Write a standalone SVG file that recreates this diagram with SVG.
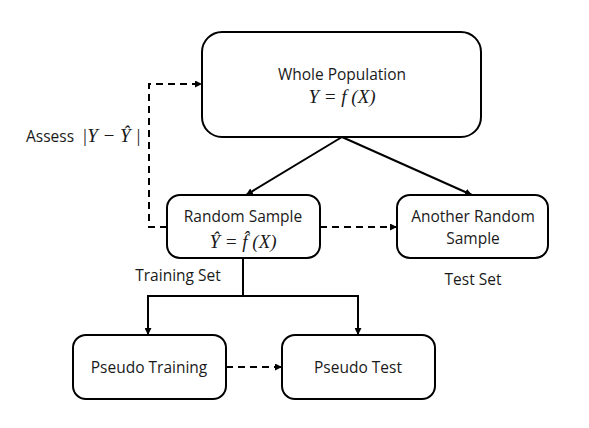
<svg xmlns="http://www.w3.org/2000/svg" width="589" height="428" viewBox="0 0 589 428">
<style>
.box{fill:#fff;stroke:#000;stroke-width:2}
.t{font-family:"Open Sans","Liberation Sans",sans-serif;font-size:15.5px;fill:#1a1a1a;text-anchor:middle}
.m{font-family:"Liberation Serif",serif;font-style:italic;font-size:19px;fill:#1a1a1a;text-anchor:middle}
.ln{stroke:#000;stroke-width:2;fill:none}
.d{stroke:#000;stroke-width:2;fill:none;stroke-dasharray:7,5}
</style>
<defs>
<marker id="ah" viewBox="0 0 10 10" refX="10" refY="5" markerWidth="3.5" markerHeight="3.5" orient="auto" markerUnits="strokeWidth">
<path d="M0,0 L10,5 L0,10 z" fill="#000"/>
</marker>
</defs>
<rect width="589" height="428" fill="#fff"/>
<g id="connectors">
<path class="ln" d="M342,137 L246,195" marker-end="url(#ah)"/>
<path class="ln" d="M342,137 L472,195" marker-end="url(#ah)"/>
<path class="d" d="M167,227 H149 V84 H202" marker-end="url(#ah)"/>
<path class="d" d="M320,227 H397" marker-end="url(#ah)"/>
<path class="ln" d="M243,258 V296 M148,296 H358"/>
<path class="ln" d="M148,295 V335" marker-end="url(#ah)"/>
<path class="ln" d="M358,295 V335" marker-end="url(#ah)"/>
<path class="d" d="M226,367 H282" marker-end="url(#ah)"/>
</g>
<g id="whole">
<rect class="box" x="202" y="32" width="279" height="105" rx="20"/>
<text class="t" x="342" y="80">Whole Population</text>
<text class="m" x="342" y="103">Y = f (X)</text>
</g>
<g id="sample">
<rect class="box" x="167" y="195" width="153" height="63" rx="13"/>
<text class="t" x="243" y="222">Random Sample</text>
<text class="m" x="243" y="248">Ŷ = f̂ (X)</text>
</g>
<g id="another">
<rect class="box" x="397" y="195" width="151" height="63" rx="13"/>
<text class="t" x="473" y="222">Another Random</text>
<text class="t" x="473" y="244">Sample</text>
</g>
<g id="ptrain">
<rect class="box" x="73" y="335" width="153" height="64" rx="13"/>
<text class="t" x="149" y="373">Pseudo Training</text>
</g>
<g id="ptest">
<rect class="box" x="282" y="335" width="153" height="64" rx="13"/>
<text class="t" x="358" y="373">Pseudo Test</text>
</g>
<g id="labels">
<text class="t" x="178" y="281">Training Set</text>
<text class="t" x="473" y="285">Test Set</text>
<text class="t" x="26" y="142" style="text-anchor:start">Assess</text>
<text class="m" x="82" y="142" style="text-anchor:start">|Y − Ŷ |</text>
</g>
</svg>
